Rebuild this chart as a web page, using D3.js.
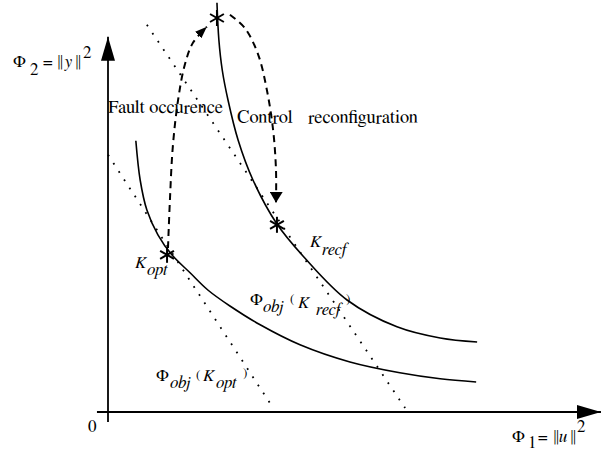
<!DOCTYPE html>
<html>
<head>
<meta charset="utf-8">
<script src="https://cdn.jsdelivr.net/npm/d3@7"></script>
</head>
<body style="margin:0">
<svg id="chart"></svg>
<script>
// values in (Phi1, Phi2) units, 0..100 on both axes
var frontOpt = [[5.8,67.8],[6.7,58.0],[8.1,50.5],[10.4,44.3],[13.3,39.3],[17.1,34.8],[20.8,30.5],
	[25.4,26.5],[31.7,21.8],[40.0,16.8],[50.4,12.5],[60.8,9.8],[69.2,8.3],[76.7,7.5]];
var frontRecf = [[22.7,102.3],[23.1,93.0],[23.8,85.5],[25.0,78.0],[27.1,68.0],[30.2,58.0],[35.2,47.0],
	[41.0,38.5],[49.8,28.0],[60.2,21.3],[69.2,18.5],[76.9,17.5]];
var tangentOpt = [[0,64.3],[34.4,1.0]];
var tangentRecf = [[8.1,96.8],[61.9,1.0]];
var faultPath = [[12.5,41.0],[12.9,53.0],[13.5,66.3],[14.6,78.0],[16.0,86.8],[17.7,92.3],[20.6,96.3]];
var recfPath = [[25.4,99.3],[28.5,96.0],[31.3,89.3],[33.1,80.5],[34.4,70.5],[35.0,60.5],[35.0,52.3]];
var points = [[12.3,39.3],[22.7,98.5],[35.2,46.8]];

var width = 608, height = 452;
var fontFam = "FreeSerif";
var svg = d3.select("#chart").attr("width", width).attr("height", height)
	.attr("font-family", fontFam);

var x = d3.scaleLinear().domain([0,100]).range([108,588]);
var y = d3.scaleLinear().domain([0,100]).range([412,12]);

//labels
function txt(px, py, s, size, italic){
	var t = svg.append("text")
		.attr("x", px).attr("y", py)
		.attr("font-family", fontFam)
		.attr("font-size", size || 17)
		.text(s);
	if(italic) t.attr("font-style","italic");
	return t;
}

// y axis title
txt(13, 67, "Φ");
txt(30, 75, "2");
txt(43, 67, "=");
txt(56, 67, "‖");
txt(64, 67, "y", 17, true);
txt(74, 67, "‖");
txt(83, 58, "2");

// x axis title
txt(512, 442, "Φ");
txt(528, 448, "1");
txt(538, 442, "=");
txt(552, 442, "‖");
txt(559, 442, "u", 17, true);
txt(569, 442, "‖");
txt(577, 432, "2");

txt(88, 432, "0");

txt(108, 113, "Fault occurence", 18.5);
txt(237, 123, "Control", 18.5);
txt(308, 123, "reconfiguration", 18.5);

txt(135, 268, "K", 17, true);
txt(147, 275, "opt", 17, true);
txt(310, 247, "K", 17, true);
txt(322, 255, "recf", 17, true);

txt(250, 305, "Φ");
txt(263, 312, "obj", 17, true);
txt(290, 303, "(", 13);
txt(298, 308, "K", 17, true);
txt(316, 315, "recf", 17, true);
txt(346, 303, ")", 13);

txt(156, 381, "Φ");
txt(170, 388, "obj", 17, true);
txt(196, 379, "(", 13);
txt(203, 381, "K", 17, true);
txt(216, 388, "opt", 17, true);
txt(243, 377, ")", 13);

var defs = svg.append("defs");
function marker(id, len, hw){
	defs.append("marker")
		.attr("id", id)
		.attr("markerUnits","userSpaceOnUse")
		.attr("viewBox", "0 "+(-hw)+" "+len+" "+(2*hw))
		.attr("refX", len).attr("refY", 0)
		.attr("markerWidth", len).attr("markerHeight", 2*hw)
		.attr("orient","auto")
		.append("path")
		.attr("d","M0,"+(-hw)+"L"+len+",0L0,"+hw+"Z")
		.attr("fill","#000");
}
marker("axisArrow", 24, 7);
marker("faultArrow", 12, 4.5);
marker("recfArrow", 11, 6.5);

//axes
svg.append("line")
	.attr("x1", x(-2.3)).attr("x2", x(102.7))
	.attr("y1", y(0)).attr("y2", y(0))
	.attr("stroke","#000").attr("stroke-width",1.8)
	.attr("marker-end","url(#axisArrow)");
svg.append("line")
	.attr("x1", x(0)).attr("x2", x(0))
	.attr("y1", y(-2.5)).attr("y2", y(93.8))
	.attr("stroke","#000").attr("stroke-width",1.8)
	.attr("marker-end","url(#axisArrow)");

var line = d3.line()
	.x(function(d){return x(d[0]);})
	.y(function(d){return y(d[1]);})
	.curve(d3.curveCatmullRom.alpha(0.5));
var straight = d3.line()
	.x(function(d){return x(d[0]);})
	.y(function(d){return y(d[1]);});

//fronts
[frontOpt, frontRecf].forEach(function(f){
	svg.append("path").attr("d", line(f))
		.attr("fill","none").attr("stroke","#000").attr("stroke-width",1.6);
});

//tangent (dotted) lines
[tangentOpt, tangentRecf].forEach(function(t){
	svg.append("path").attr("d", straight(t))
		.attr("fill","none").attr("stroke","#000").attr("stroke-width",1.8)
		.attr("stroke-dasharray","1.8,8");
});

//dashed transitions
svg.append("path").attr("d", line(faultPath))
	.attr("fill","none").attr("stroke","#000").attr("stroke-width",2)
	.attr("stroke-dasharray","7,5")
	.attr("marker-end","url(#faultArrow)");
svg.append("path").attr("d", line(recfPath))
	.attr("fill","none").attr("stroke","#000").attr("stroke-width",2)
	.attr("stroke-dasharray","7,5")
	.attr("marker-end","url(#recfArrow)");

//asterisks
points.forEach(function(p){
	var g = svg.append("g").attr("transform","translate("+x(p[0])+","+y(p[1])+")");
	for(var a=0;a<3;a++){
		var ang = Math.PI/2 + a*Math.PI/3;
		g.append("line")
			.attr("x1", -8*Math.cos(ang)).attr("y1", -8*Math.sin(ang))
			.attr("x2", 8*Math.cos(ang)).attr("y2", 8*Math.sin(ang))
			.attr("stroke","#000").attr("stroke-width",2);
	}
});
</script>
</body>
</html>
